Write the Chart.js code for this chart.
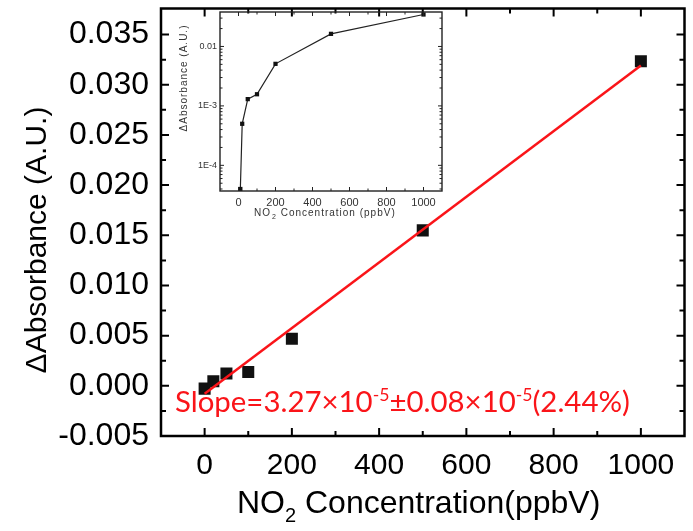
<!DOCTYPE html>
<html>
<head>
<meta charset="utf-8">
<script src="https://cdn.jsdelivr.net/npm/chart.js@4.4.0/dist/chart.umd.min.js"></script>
<style>
    html, body { margin: 0; padding: 0; background: #fff; }
    #wrap { position: relative; width: 693px; height: 531px; overflow: hidden; }
    #main { position: absolute; left: 0; top: 0; }
    #inset { position: absolute; left: 170px; top: 0; }
</style>
</head>
<body>
<div id="wrap">
    <canvas id="main" width="693" height="531"></canvas>
    <canvas id="inset" width="280" height="235"></canvas>
</div>
<script>
// main plot data (NO2 ppbV vs delta absorbance)
const concX = [0, 20, 50, 100, 200, 500, 1000];
const absorb = [-0.00028, 0.00045, 0.00122, 0.00137, 0.0047, 0.01549, 0.03235];
const fitX = [0, 1000];
const fitY = [-0.00078, 0.03192];
const xTicks = [0, 200, 400, 600, 800, 1000];
const yTicks = [-0.005, 0, 0.005, 0.010, 0.015, 0.020, 0.025, 0.030, 0.035];

// inset (log scale)
const insetX = [10, 20, 50, 100, 200, 500, 1000];
const insetY = [4.0e-5, 5.0e-4, 1.3e-3, 1.57e-3, 5.1e-3, 0.0163, 0.0345];
const insetXTicks = [0, 200, 400, 600, 800, 1000];
const insetYTicks = [1e-4, 1e-3, 1e-2];
const insetYLabels = ['1E-4', '1E-3', '0.01'];

const slopeText = [['Slope=3.27×10', 0], ['-5', 1], ['±0.08×10', 0], ['-5', 1], ['(2.44%)', 0]];

const ARIAL = "'Liberation Sans', Arial, sans-serif";

function toPoints(xs, ys) {
    return xs.map((x, i) => ({ x: x, y: ys[i] }));
}

// minor ticks halfway between majors, kept inside the axis range
function halfSteps(ticks, min, max) {
    const step = ticks[1] - ticks[0];
    const out = [];
    for (let v = ticks[0] - step / 2; v < max; v += step) {
        if (v > min + step * 0.05 && v < max - step * 0.05) out.push(v);
    }
    return out;
}

function logMinors(min, max) {
    const out = [];
    for (let d = 1e-6; d < 1; d *= 10) {
        for (let m = 2; m <= 9; m++) {
            const v = m * d;
            if (v > min && v < max) out.push(v);
        }
    }
    return out;
}

// no extra room for overhanging labels, the chart area is fixed by layout padding
function noOverhang(s) {
    s.paddingTop = 0; s.paddingBottom = 0;
    s.paddingLeft = 0; s.paddingRight = 0;
}

// frame plus inward ticks on all four sides
function drawFrame(chart, o) {
    const { ctx, chartArea: a, scales: { x, y } } = chart;
    ctx.save();
    ctx.strokeStyle = o.color;
    ctx.lineWidth = o.tickWidth;
    ctx.beginPath();
    const xt = (vals, len) => vals.forEach(v => {
        const px = x.getPixelForValue(v);
        ctx.moveTo(px, a.bottom); ctx.lineTo(px, a.bottom - len);
        ctx.moveTo(px, a.top); ctx.lineTo(px, a.top + len);
    });
    const yt = (vals, len) => vals.forEach(v => {
        const py = y.getPixelForValue(v);
        ctx.moveTo(a.left, py); ctx.lineTo(a.left + len, py);
        ctx.moveTo(a.right, py); ctx.lineTo(a.right - len, py);
    });
    xt(o.xMajor, o.major); xt(o.xMinor, o.minor);
    yt(o.yMajor, o.major); yt(o.yMinor, o.minor);
    ctx.stroke();
    ctx.lineWidth = o.frameWidth;
    ctx.strokeRect(a.left, a.top, a.right - a.left, a.bottom - a.top);
    ctx.restore();
}

const mainDecor = {
    id: 'mainDecor',
    afterDraw(chart) {
        drawFrame(chart, {
            color: '#000', tickWidth: 2, frameWidth: 2.5, major: 8, minor: 5,
            xMajor: xTicks, xMinor: halfSteps(xTicks, -100, 1100),
            yMajor: yTicks, yMinor: halfSteps(yTicks, -0.005, 0.0376)
        });
        const ctx = chart.ctx;
        ctx.save();
        ctx.fillStyle = '#000';
        // y title
        ctx.save();
        ctx.translate(46, 240);
        ctx.rotate(-Math.PI / 2);
        ctx.font = '30px ' + ARIAL;
        ctx.textAlign = 'center';
        ctx.textBaseline = 'alphabetic';
        ctx.fillText('\u0394Absorbance (A.U.)', 0, 0);
        ctx.restore();
        // x title with subscript
        ctx.textAlign = 'left';
        ctx.textBaseline = 'alphabetic';
        let tx = 237;
        const by = 513;
        ctx.font = '32px ' + ARIAL;
        ctx.fillText('NO', tx, by);
        tx += ctx.measureText('NO').width;
        ctx.font = '20px ' + ARIAL;
        ctx.fillText('2', tx, by + 9);
        tx += ctx.measureText('2').width;
        ctx.font = '32px ' + ARIAL;
        ctx.fillText(' Concentration(ppbV)', tx, by);

        // slope annotation, sized to its width in the picture
        const fam = "Lato, 'Open Sans', sans-serif";
        const widthAt = size => slopeText.reduce((w, [t, sup]) => {
            ctx.font = (sup ? size * 0.6 : size) + 'px ' + fam;
            return w + ctx.measureText(t).width;
        }, 0);
        const size = 100 * 455 / widthAt(100);
        ctx.fillStyle = 'rgb(250, 20, 25)';
        let sx = 175;
        const sy = 412;
        slopeText.forEach(([t, sup]) => {
            ctx.font = (sup ? size * 0.6 : size) + 'px ' + fam;
            ctx.fillText(t, sx, sup ? sy - size * 0.36 : sy);
            sx += ctx.measureText(t).width;
        });
        ctx.restore();
    }
};

new Chart(document.getElementById('main'), {
    type: 'scatter',
    data: {
        datasets: [
            {
                label: 'fit',
                data: toPoints(fitX, fitY),
                showLine: true,
                borderColor: 'rgb(250, 20, 25)',
                borderWidth: 2.5,
                pointRadius: 0,
                order: 0
            },
            {
                label: 'data',
                data: toPoints(concX, absorb),
                pointStyle: 'rect',
                pointRadius: 8.5,
                pointBackgroundColor: '#111',
                pointBorderWidth: 0,
                order: 1
            }
        ]
    },
    options: {
        responsive: false,
        animation: false,
        devicePixelRatio: 1,
        layout: { padding: { left: 0, top: 8, right: 6, bottom: 0 } },
        plugins: { legend: { display: false }, tooltip: { enabled: false } },
        scales: {
            x: {
                type: 'linear', min: -100, max: 1100,
                afterBuildTicks: s => { s.ticks = xTicks.map(v => ({ value: v })); },
                afterFit: s => { s.height = 95; noOverhang(s); },
                grid: { display: false, drawTicks: false },
                border: { display: false },
                ticks: { padding: 12, color: '#000', font: { family: ARIAL, size: 30 }, callback: v => String(v) }
            },
            y: {
                type: 'linear', min: -0.005, max: 0.0376,
                afterBuildTicks: s => { s.ticks = yTicks.map(v => ({ value: v })); },
                afterFit: s => { s.width = 161; noOverhang(s); },
                grid: { display: false, drawTicks: false },
                border: { display: false },
                ticks: { padding: 12, color: '#000', font: { family: ARIAL, size: 32 }, callback: v => v.toFixed(3) }
            }
        }
    },
    plugins: [mainDecor]
});

const insetDecor = {
    id: 'insetDecor',
    afterDraw(chart) {
        drawFrame(chart, {
            color: '#222', tickWidth: 1, frameWidth: 1.4, major: 4, minor: 2.5,
            xMajor: insetXTicks, xMinor: halfSteps(insetXTicks, -100, 1100),
            yMajor: insetYTicks, yMinor: logMinors(3.7e-5, 0.038)
        });
        const ctx = chart.ctx;
        ctx.save();
        ctx.fillStyle = '#333';
        ctx.letterSpacing = '1px';
        ctx.save();
        ctx.translate(17, 78);
        ctx.rotate(-Math.PI / 2);
        ctx.font = '10px ' + ARIAL;
        ctx.textAlign = 'center';
        ctx.fillText('\u0394Absorbance (A.U.)', 0, 0);
        ctx.restore();
        ctx.textAlign = 'left';
        let tx = 84;
        const by = 216;
        ctx.font = '10px ' + ARIAL;
        ctx.fillText('NO', tx, by);
        tx += ctx.measureText('NO').width + 1;
        ctx.font = '7px ' + ARIAL;
        ctx.fillText('2', tx, by + 3);
        tx += ctx.measureText('2').width;
        ctx.font = '10px ' + ARIAL;
        ctx.fillText(' Concentration (ppbV)', tx, by);
        ctx.restore();
    }
};

new Chart(document.getElementById('inset'), {
    type: 'scatter',
    data: {
        datasets: [{
            label: 'log',
            data: toPoints(insetX, insetY),
            showLine: true,
            borderColor: '#222',
            borderWidth: 1.2,
            pointStyle: 'rect',
            pointRadius: 3,
            pointBackgroundColor: '#111',
            pointBorderWidth: 0
        }]
    },
    options: {
        responsive: false,
        animation: false,
        devicePixelRatio: 1,
        layout: { padding: { left: 0, top: 12, right: 8, bottom: 0 } },
        plugins: { legend: { display: false }, tooltip: { enabled: false } },
        scales: {
            x: {
                type: 'linear', min: -100, max: 1100,
                afterBuildTicks: s => { s.ticks = insetXTicks.map(v => ({ value: v })); },
                afterFit: s => { s.height = 44; noOverhang(s); },
                grid: { display: false, drawTicks: false },
                border: { display: false },
                ticks: { padding: 5, color: '#333', font: { family: ARIAL, size: 11 }, callback: v => String(v) }
            },
            y: {
                type: 'logarithmic', min: 3.7e-5, max: 0.038,
                afterBuildTicks: s => { s.ticks = insetYTicks.map(v => ({ value: v })); },
                afterFit: s => { s.width = 50; noOverhang(s); },
                grid: { display: false, drawTicks: false },
                border: { display: false },
                ticks: { padding: 3, color: '#333', font: { family: ARIAL, size: 9 },
                    callback: v => insetYLabels[insetYTicks.findIndex(t => Math.abs(t - v) / t < 1e-6)] }
            }
        }
    },
    plugins: [insetDecor]
});
</script>
</body>
</html>
